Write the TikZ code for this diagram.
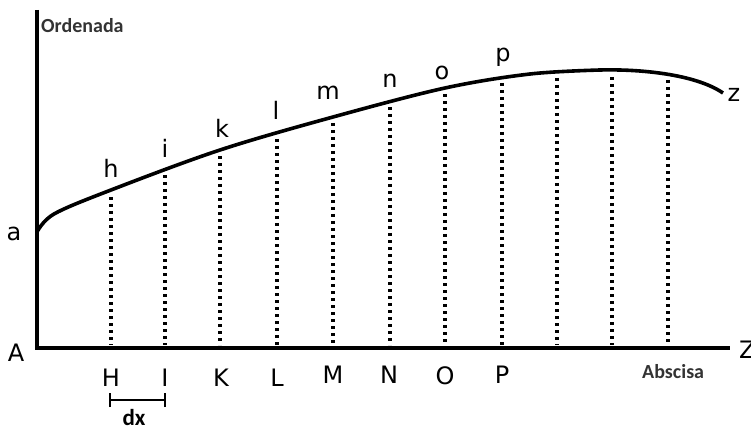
\documentclass[tikz,border=0pt]{standalone}
\usepackage{fontspec}
\setmainfont{DejaVu Sans}
\newfontfamily\calib{Carlito}
\begin{document}
\begin{tikzpicture}[x=1pt,y=-1pt,
  lbl/.style={font=\fontsize{24}{24}\selectfont, anchor=base, inner sep=0pt},
  small/.style={font=\calib\bfseries\fontsize{20}{20}\selectfont, anchor=base west, inner sep=0pt, text=black!80},
  axis/.style={line width=4pt},
  curve/.style={line width=3.6pt},
  dots/.style={line width=3.2pt, dash pattern=on 3.2pt off 3.8pt},
  bar/.style={line width=1.6pt}]
\useasboundingbox (0,0) rectangle (751,430);
% axes
\coordinate (Otop) at (37,10);
\coordinate (O) at (37,350);
\coordinate (Xend) at (730,348);
\draw[axis] (Otop) -- (O);
\draw[axis] (35,348) -- (Xend);
% curve
\coordinate (ca) at (37,232);
\coordinate (cz) at (723,93);
\draw[curve] plot[smooth, tension=0.55] coordinates {(ca) (54,214) (111,190) (220,150) (333,117) (445,88) (530,74) (600,70)}
  .. controls (640,69) and (695,74) .. (cz);
% dotted ordinates
\foreach \n/\x/\y in {h/111/197,i/165/175,k/220/156,l/277/139,m/333/123,n/390/107,o/445/94,p/502/83,q/557/78,r/612/77,s/668/80}{
  \coordinate (t\n) at (\x,\y);
  \coordinate (b\n) at (\x,345);
  \draw[dots] (t\n) -- (b\n);
}
% labels
\node[lbl] (la) at (14,240) {a};
\node[lbl] (lA) at (16,361) {A};
\node[lbl] (lh) at (111,178) {h};
\node[lbl] (li) at (165,158) {i};
\node[lbl] (lk) at (222,138) {k};
\node[lbl] (ll) at (276,120) {l};
\node[lbl] (lm) at (328,100) {m};
\node[lbl] (ln) at (390,88) {n};
\node[lbl] (lo) at (442,80) {o};
\node[lbl] (lp) at (503,62) {p};
\node[lbl] (lz) at (734,102) {z};
\node[lbl, anchor=base west] (lZ) at (739,358) {Z};
\node[lbl] (lH) at (111,386) {H};
\node[lbl] (lI) at (165,386) {I};
\node[lbl] (lK) at (221,386) {K};
\node[lbl] (lL) at (277,386) {L};
\node[lbl] (lM) at (333,383) {M};
\node[lbl] (lN) at (389,383) {N};
\node[lbl] (lO) at (445,384) {O};
\node[lbl] (lP) at (502,383) {P};
\node[small] (ord) at (41,33) {Ordenada};
\node[small] (abs) at (642,378) {Abscisa};
% dx bar
\coordinate (d1) at (110,400);
\coordinate (d2) at (165,400);
\draw[bar] (d1) -- (d2);
\draw[bar] ([yshift=-7pt]d1) -- ([yshift=7pt]d1);
\draw[bar] ([yshift=-7pt]d2) -- ([yshift=7pt]d2);
\node[font=\calib\bfseries\fontsize{23}{23}\selectfont, anchor=base, inner sep=0pt] (dx) at (134,425) {dx};
\end{tikzpicture}
\end{document}
